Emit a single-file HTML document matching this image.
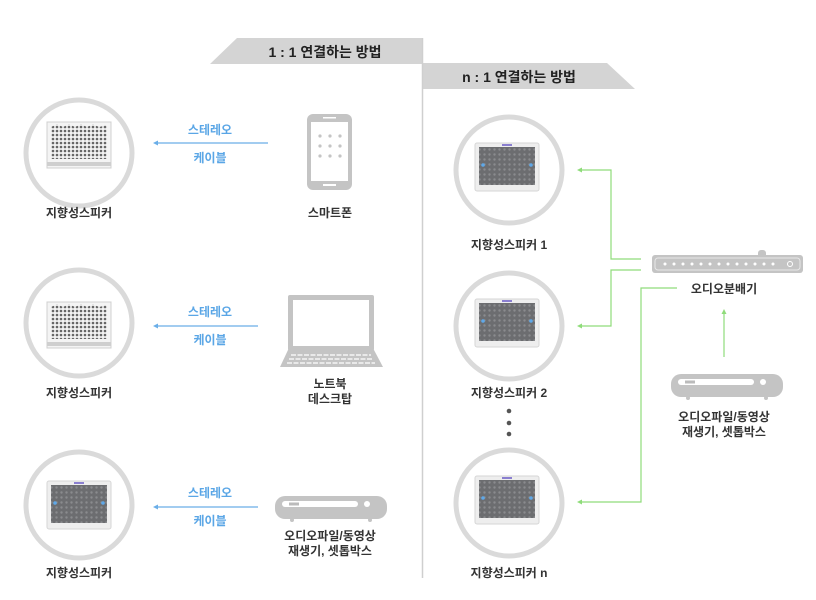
<!DOCTYPE html>
<html><head><meta charset="utf-8"><style>
body{margin:0;background:#fff}
svg{display:block}
text{font-family:"Liberation Sans","Noto Sans CJK KR","NanumGothic",sans-serif;}
</style></head><body>
<svg width="816" height="600" viewBox="0 0 816 600" xmlns="http://www.w3.org/2000/svg">
<defs>
<pattern id="hx" width="4" height="4" patternUnits="userSpaceOnUse"><rect width="4" height="4" fill="#f2f2f2"/><circle cx="2" cy="2" r="1.3" fill="#666"/></pattern>
<pattern id="gd" width="5" height="5" patternUnits="userSpaceOnUse"><rect width="5" height="5" fill="#6c6d70"/><circle cx="2.5" cy="2.5" r="1.2" fill="#8a8b8e"/></pattern>
<g id="spkA">
<rect x="-32" y="-23" width="64" height="46" fill="#f4f4f4" stroke="#d0d0d0"/>
<path d="M-28,-18 L-22,-21 L-16,-18 L-10,-21 L-4,-18 L2,-21 L8,-18 L14,-21 L20,-18 L28,-20 L28,14 L-28,14Z" fill="url(#hx)"/>
<rect x="-32" y="17" width="64" height="4" fill="#cfcfcf"/>
</g>
<g id="spkB">
<rect x="-32" y="-24" width="64" height="48" rx="2" fill="#eeeeee" stroke="#d6d6d6"/>
<rect x="-28" y="-20" width="56" height="38" fill="url(#gd)"/>
<rect x="-5" y="-23" width="10" height="2" fill="#8a7fd0"/>
<circle cx="-24" cy="-2" r="1.8" fill="#5fa8e8"/><circle cx="24" cy="-2" r="1.8" fill="#5fa8e8"/>
</g>
<g id="settop">
<rect x="0" y="0" width="112" height="23" rx="10" fill="#c4c4c4"/>
<rect x="7" y="5" width="76" height="6" rx="3" fill="#fff"/>
<circle cx="92" cy="8" r="3" fill="#fff"/>
<rect x="14" y="6.5" width="10" height="3" fill="#bbb"/>
<circle cx="17" cy="24" r="2" fill="#c4c4c4"/><circle cx="95" cy="24" r="2" fill="#c4c4c4"/>
</g>
</defs>

<!-- banners -->
<polygon points="237,38 422,38 422,64 210,64" fill="#d4d4d4"/>
<text x="325" y="57" font-size="14" font-weight="bold" fill="#222" text-anchor="middle">1 : 1 연결하는 방법</text>
<polygon points="422,63 607,63 635,89 422,89" fill="#d4d4d4"/>
<text x="519" y="82" font-size="14" font-weight="bold" fill="#222" text-anchor="middle">n : 1 연결하는 방법</text>
<line x1="422.5" y1="38" x2="422.5" y2="578" stroke="#cfcfcf" stroke-width="1.5"/>

<!-- left circles -->
<g fill="#fff" stroke="#dadada" stroke-width="5">
<circle cx="79" cy="153" r="53"/><circle cx="79" cy="323" r="53"/><circle cx="79" cy="505" r="53"/>
<circle cx="509" cy="170" r="53"/><circle cx="509" cy="326" r="53"/><circle cx="509" cy="503" r="53"/>
</g>
<use href="#spkA" x="79" y="145"/>
<use href="#spkA" x="79" y="325"/>
<use href="#spkB" x="79" y="505"/>
<use href="#spkB" x="507" y="167"/>
<use href="#spkB" x="507" y="323"/>
<use href="#spkB" x="507" y="500"/>

<g font-size="12" font-weight="bold" fill="#333" text-anchor="middle">
<text x="79" y="217">지향성스피커</text>
<text x="79" y="397">지향성스피커</text>
<text x="79" y="577">지향성스피커</text>
<text x="509" y="249">지향성스피커 1</text>
<text x="509" y="397">지향성스피커 2</text>
<text x="509" y="577">지향성스피커 n</text>
<text x="330" y="217">스마트폰</text>
<text x="330" y="388">노트북</text>
<text x="330" y="403">데스크탑</text>
<text x="330" y="540">오디오파일/동영상</text>
<text x="330" y="555">재생기, 셋톱박스</text>
<text x="724" y="293">오디오분배기</text>
<text x="724" y="421">오디오파일/동영상</text>
<text x="724" y="436">재생기, 셋톱박스</text>
</g>

<!-- blue arrows -->
<g stroke="#6aaee8" stroke-width="1.2">
<line x1="156" y1="143" x2="268" y2="143"/>
<line x1="156" y1="326" x2="258" y2="326"/>
<line x1="156" y1="507" x2="258" y2="507"/>
</g>
<g fill="#6aaee8">
<polygon points="153,143 158,140.5 158,145.5"/>
<polygon points="153,326 158,323.5 158,328.5"/>
<polygon points="153,507 158,504.5 158,509.5"/>
</g>
<g font-size="12" font-weight="bold" fill="#5aa6e6" text-anchor="middle">
<text x="210" y="134">스테레오</text><text x="210" y="162">케이블</text>
<text x="210" y="316">스테레오</text><text x="210" y="344">케이블</text>
<text x="210" y="497">스테레오</text><text x="210" y="525">케이블</text>
</g>

<!-- phone -->
<rect x="307" y="114" width="45" height="76" rx="6" fill="#c4c4c4"/>
<rect x="311" y="122" width="37" height="59" fill="#fff"/>
<rect x="323" y="117" width="13" height="1.5" fill="#fff"/>
<rect x="323" y="184" width="13" height="2" fill="#fff"/>
<g fill="#c4c4c4">
<circle cx="320" cy="136" r="1.6"/><circle cx="330" cy="136" r="1.6"/><circle cx="340" cy="136" r="1.6"/>
<circle cx="320" cy="146" r="1.6"/><circle cx="330" cy="146" r="1.6"/><circle cx="340" cy="146" r="1.6"/>
<circle cx="320" cy="156" r="1.6"/><circle cx="330" cy="156" r="1.6"/><circle cx="340" cy="156" r="1.6"/>
</g>

<!-- laptop -->
<rect x="288" y="295" width="86" height="56" rx="2" fill="#c4c4c4"/>
<rect x="293" y="300" width="76" height="46" fill="#fff"/>
<polygon points="288,350 374,350 383,367 280,367" fill="#c4c4c4"/>
<g stroke="#fff" stroke-width="1.2" stroke-dasharray="5,1.5">
<line x1="291" y1="355" x2="371" y2="355"/>
<line x1="289" y1="359" x2="373" y2="359"/>
<line x1="287" y1="363" x2="375" y2="363"/>
</g>

<use href="#settop" x="275" y="496"/>
<use href="#settop" x="671" y="374"/>

<!-- splitter -->
<rect x="758" y="250" width="8" height="8" rx="3" fill="#c4c4c4"/>
<rect x="652" y="255" width="151" height="18" rx="3" fill="#c4c4c4"/>
<rect x="655" y="258" width="145" height="12" rx="3" fill="none" stroke="#e8e8e8" stroke-width="1"/>
<g fill="#fff">
<circle cx="665" cy="264" r="1.5"/><circle cx="674" cy="264" r="1.5"/><circle cx="683" cy="264" r="1.5"/><circle cx="692" cy="264" r="1.5"/><circle cx="701" cy="264" r="1.5"/><circle cx="710" cy="264" r="1.5"/><circle cx="719" cy="264" r="1.5"/><circle cx="728" cy="264" r="1.5"/><circle cx="737" cy="264" r="1.5"/><circle cx="746" cy="264" r="1.5"/><circle cx="755" cy="264" r="1.5"/><circle cx="764" cy="264" r="1.5"/><circle cx="773" cy="264" r="1.5"/>
</g>
<circle cx="790" cy="264" r="2.5" fill="none" stroke="#fff"/>

<!-- dots -->
<g fill="#555"><circle cx="509" cy="411" r="2.3"/><circle cx="509" cy="423" r="2.3"/><circle cx="509" cy="434" r="2.3"/></g>

<!-- green connectors -->
<g fill="none" stroke="#8fdc7a" stroke-width="1.2">
<polyline points="581,170 611,170 611,259 641,259"/>
<polyline points="581,326 611,326 611,270 641,270"/>
<polyline points="581,502 641,502 641,288 677,288"/>
<line x1="724" y1="357" x2="724" y2="313"/>
</g>
<g fill="#8fdc7a">
<polygon points="577,170 582,167.5 582,172.5"/>
<polygon points="577,326 582,323.5 582,328.5"/>
<polygon points="577,502 582,499.5 582,504.5"/>
<polygon points="724,309 721.5,314 726.5,314"/>
</g>
</svg>
</body></html>
